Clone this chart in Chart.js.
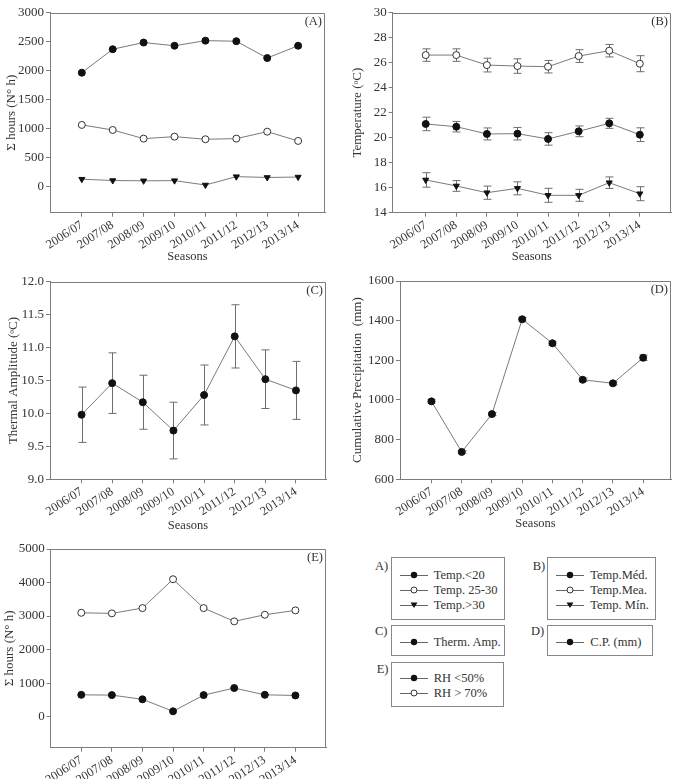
<!DOCTYPE html>
<html>
<head>
<meta charset="utf-8">
<script src="https://cdn.jsdelivr.net/npm/chart.js@4"></script>
<style>
  body { margin: 0; background: #fff; width: 676px; height: 779px; position: relative; overflow: hidden;
         font-family: "Liberation Serif", "Times New Roman", serif; color: #333; }
  canvas { position: absolute; }
  .lbox { position: absolute; border: 1px solid #888; box-sizing: border-box; }
  .ltag { position: absolute; font-size: 12.5px; line-height: 15px; }
  .litem { position: absolute; left: 8px; height: 14px; font-size: 12.5px; line-height: 14px; white-space: nowrap; }
  .litem svg { position: absolute; left: 0; top: 2px; }
  .litem span { position: absolute; left: 34px; top: 0; }
</style>
</head>
<body>
<canvas id="chartA" width="338" height="270" style="left:0px;top:0px"></canvas>
<canvas id="chartB" width="338" height="270" style="left:338px;top:0px"></canvas>
<canvas id="chartC" width="338" height="268" style="left:0px;top:270px"></canvas>
<canvas id="chartD" width="338" height="268" style="left:338px;top:270px"></canvas>
<canvas id="chartE" width="338" height="241" style="left:0px;top:538px"></canvas>
<div id="legends"></div>
<script>
// Seasons on every x axis
const seasons = ['2006/07', '2007/08', '2008/09', '2009/10', '2010/11', '2011/12', '2012/13', '2013/14'];

// (A) sum of hours per temperature band
const namesA = ['Temp.<20', 'Temp. 25-30', 'Temp.>30'];
const hoursBelow20 = [1965, 2370, 2485, 2430, 2518, 2508, 2218, 2430];
const hours25to30 = [1064, 977, 828, 862, 817, 828, 948, 788];
const hoursAbove30 = [128, 105, 100, 103, 28, 172, 158, 165];
const ticksA = [0, 500, 1000, 1500, 2000, 2500, 3000];

// (B) temperatures with error bars
const namesB = ['Temp.Méd.', 'Temp.Mea.', 'Temp. Mín.'];
const tempMed = [21.1, 20.88, 20.3, 20.32, 19.9, 20.51, 21.15, 20.24];
const tempMedErr = [0.54, 0.42, 0.48, 0.5, 0.5, 0.43, 0.4, 0.55];
const tempMea = [26.61, 26.61, 25.81, 25.73, 25.68, 26.53, 26.96, 25.92];
const tempMeaErr = [0.5, 0.5, 0.55, 0.58, 0.5, 0.51, 0.5, 0.64];
const tempMin = [16.62, 16.14, 15.6, 15.95, 15.39, 15.39, 16.4, 15.52];
const tempMinErr = [0.58, 0.43, 0.53, 0.52, 0.56, 0.48, 0.46, 0.56];
const ticksB = [14, 16, 18, 20, 22, 24, 26, 28, 30];

// (C) thermal amplitude
const namesC = ['Therm. Amp.'];
const thermAmp = [9.98, 10.46, 10.17, 9.74, 10.28, 11.17, 10.52, 10.35];
const thermAmpErr = [0.42, 0.46, 0.41, 0.43, 0.455, 0.48, 0.445, 0.44];
const ticksC = [9.0, 9.5, 10.0, 10.5, 11.0, 11.5, 12.0];

// (D) cumulative precipitation
const namesD = ['C.P. (mm)'];
const precip = [993, 738, 929, 1407, 1286, 1102, 1084, 1213];
const precipErr = [8, 6, 8, 9, 9, 9, 8, 14];
const ticksD = [600, 800, 1000, 1200, 1400, 1600];

// (E) hours by relative humidity
const namesE = ['RH <50%', 'RH > 70%'];
const rhBelow50 = [652, 643, 518, 161, 643, 854, 652, 633];
const rhAbove70 = [3098, 3080, 3238, 4098, 3238, 2842, 3039, 3170];
const ticksE = [0, 1000, 2000, 3000, 4000, 5000];

const axisColor = '#7d7d7d';
const textColor = '#333';
const serif = '"Liberation Serif", "Times New Roman", serif';

// error bars under the points, frame top/right and the panel tag
const framePlugin = {
  id: 'frame',
  beforeDatasetsDraw(chart) {
    const ctx = chart.ctx;
    const ys = chart.scales.y;
    ctx.save();
    ctx.strokeStyle = '#6e6e6e';
    ctx.lineWidth = 1;
    chart.data.datasets.forEach((ds, di) => {
      if (!ds.errors) return;
      chart.getDatasetMeta(di).data.forEach((pt, i) => {
        const v = ds.data[i].y, e = ds.errors[i];
        const y1 = ys.getPixelForValue(v + e), y2 = ys.getPixelForValue(v - e);
        const x = Math.round(pt.x) + 0.5;
        ctx.beginPath();
        ctx.moveTo(x, y1); ctx.lineTo(x, y2);
        ctx.moveTo(x - 4, y1); ctx.lineTo(x + 4, y1);
        ctx.moveTo(x - 4, y2); ctx.lineTo(x + 4, y2);
        ctx.stroke();
      });
    });
    ctx.restore();
  },
  afterDraw(chart, args, opts) {
    const ctx = chart.ctx;
    const a = chart.chartArea;
    const top = Math.round(a.top) + 0.5, right = Math.round(a.right) - 0.5;
    ctx.save();
    ctx.strokeStyle = axisColor;
    ctx.lineWidth = 1;
    ctx.beginPath();
    ctx.moveTo(a.left, top); ctx.lineTo(right, top); ctx.lineTo(right, a.bottom);
    ctx.stroke();
    ctx.fillStyle = textColor;
    ctx.font = '12.5px ' + serif;
    ctx.textAlign = 'right';
    ctx.textBaseline = 'middle';
    ctx.fillText(opts.tag, a.right - 3, a.top + 9);
    ctx.restore();
  }
};

const pts = vals => vals.map((v, i) => ({ x: i, y: v }));

const markers = {
  filled: { pointStyle: 'circle', pointBackgroundColor: '#111', pointBorderColor: '#111', pointRotation: 0 },
  open: { pointStyle: 'circle', pointBackgroundColor: '#fff', pointBorderColor: '#333', pointRotation: 0 },
  down: { pointStyle: 'triangle', pointBackgroundColor: '#111', pointBorderColor: '#111', pointRotation: 180 }
};

function series(label, vals, kind, errors) {
  return Object.assign({
    label: label,
    data: pts(vals),
    borderColor: '#7a7a7a',
    borderWidth: 1,
    pointRadius: 3.5,
    pointBorderWidth: 1,
    errors: errors
  }, markers[kind]);
}

function makePanel(id, g, yCfg, datasets, tag) {
  const yHalf = 7.8, xHalf = 7.5;
  const pl = Math.max(0, g.yTitleX - yHalf - g.cx - 2);
  const ytp = g.yTitleX - yHalf - g.cx - pl;
  const yw = g.l - g.cx - pl;
  const pr = g.cx + g.cw - g.r;
  const pt = g.t - g.cy;
  const xh = g.cy + g.ch - g.b;
  const xtp = g.xTitleY ? (g.cy + g.ch) - xHalf - g.xTitleY : 0;
  const font = { family: serif, size: 12.5 };

  return new Chart(document.getElementById(id), {
    type: 'line',
    data: { datasets: datasets },
    plugins: [framePlugin],
    options: {
      responsive: false,
      animation: false,
      layout: { padding: { left: pl, right: pr, top: pt, bottom: 0 } },
      plugins: { legend: { display: false }, tooltip: { enabled: false }, frame: { tag: tag } },
      scales: {
        x: {
          type: 'linear', min: g.xmin, max: g.xmax,
          afterBuildTicks: s => { s.ticks = seasons.map((_, i) => ({ value: i })); },
          afterFit: s => { s.height = xh; },
          grid: { display: true, drawOnChartArea: false, drawTicks: true, tickLength: 4, color: axisColor },
          border: { display: true, color: axisColor },
          ticks: { autoSkip: false, minRotation: 33, maxRotation: 33, padding: 1, color: textColor, font: font,
                   callback: v => seasons[v] },
          title: { display: !!g.xTitleY, text: 'Seasons', color: textColor, font: font,
                   padding: { top: 0, bottom: xtp } }
        },
        y: {
          min: yCfg.min, max: yCfg.max,
          afterBuildTicks: s => { s.ticks = yCfg.ticks.map(v => ({ value: v })); },
          afterFit: s => { s.width = yw; },
          grid: { display: true, drawOnChartArea: false, drawTicks: true, tickLength: 4, color: axisColor },
          border: { display: true, color: axisColor },
          ticks: { padding: 2, color: textColor, font: { family: serif, size: 13 },
                   callback: v => yCfg.digits ? v.toFixed(yCfg.digits) : String(v) },
          title: { display: true, text: yCfg.title, color: textColor, font: { family: serif, size: 13 },
                   padding: { top: ytp, bottom: 0 } }
        }
      }
    }
  });
}

makePanel('chartA',
  { cx: 0, cy: 0, cw: 338, ch: 270, l: 50, t: 12.7, r: 325, b: 212.7, yTitleX: 11.5, xTitleY: 256.7, xmin: -1.03, xmax: 7.87 },
  { min: -450, max: 3000, ticks: ticksA, title: 'Σ hours (N° h)' },
  [series(namesA[0], hoursBelow20, 'filled'),
   series(namesA[1], hours25to30, 'open'),
   series(namesA[2], hoursAbove30, 'down')],
  '(A)');

makePanel('chartB',
  { cx: 338, cy: 0, cw: 338, ch: 270, l: 392.7, t: 12.7, r: 673, b: 212.7, yTitleX: 357.5, xTitleY: 256.7, xmin: -1.08, xmax: 8.02 },
  { min: 14, max: 30, ticks: ticksB, title: 'Temperature (ᵒC)' },
  [series(namesB[1], tempMea, 'open', tempMeaErr),
   series(namesB[0], tempMed, 'filled', tempMedErr),
   series(namesB[2], tempMin, 'down', tempMinErr)],
  '(B)');

makePanel('chartC',
  { cx: 0, cy: 270, cw: 338, ch: 268, l: 50, t: 281.7, r: 326, b: 479.3, yTitleX: 13.8, xTitleY: 526, xmin: -1.03, xmax: 7.98 },
  { min: 9, max: 12, ticks: ticksC, digits: 1, title: 'Thermal Amplitude (ᵒC)' },
  [series(namesC[0], thermAmp, 'filled', thermAmpErr)],
  '(C)');

makePanel('chartD',
  { cx: 338, cy: 270, cw: 338, ch: 268, l: 400, t: 281, r: 673, b: 479.3, yTitleX: 357.7, xTitleY: 524, xmin: -1.04, xmax: 7.92 },
  { min: 600, max: 1600, ticks: ticksD, title: 'Cumulative Precipitation  (mm)' },
  [series(namesD[0], precip, 'filled', precipErr)],
  '(D)');

makePanel('chartE',
  { cx: 0, cy: 538, cw: 338, ch: 241, l: 50.7, t: 549, r: 326, b: 747.7, yTitleX: 9.2, xTitleY: 0, xmin: -1.0, xmax: 8.0 },
  { min: -925, max: 5000, ticks: ticksE, title: 'Σ hours (N° h)' },
  [series(namesE[0], rhBelow50, 'filled'),
   series(namesE[1], rhAbove70, 'open')],
  '(E)');

// legend boxes at the lower right
const legendGroups = [
  { tag: 'A)', tx: 375, ty: 559, x: 390.7, y: 557, w: 114.5, h: 63, rows: [17.3, 32.3, 47],
    names: namesA, kinds: ['filled', 'open', 'down'] },
  { tag: 'B)', tx: 532.7, ty: 559, x: 547.3, y: 557, w: 109, h: 63, rows: [17.3, 32.3, 47],
    names: namesB, kinds: ['filled', 'open', 'down'] },
  { tag: 'C)', tx: 375, ty: 624, x: 390.7, y: 625, w: 114, h: 31, rows: [15.7],
    names: namesC, kinds: ['filled'] },
  { tag: 'D)', tx: 531, ty: 624, x: 547.3, y: 625, w: 106, h: 31, rows: [15.7],
    names: namesD, kinds: ['filled'] },
  { tag: 'E)', tx: 376.7, ty: 661.5, x: 390.7, y: 661.7, w: 113.5, h: 45, rows: [15.6, 30.6],
    names: namesE, kinds: ['filled', 'open'] }
];

function symbolSvg(kind) {
  let mark;
  if (kind === 'open') mark = '<circle cx="14" cy="5" r="3" fill="#fff" stroke="#333" stroke-width="1"/>';
  else if (kind === 'down') mark = '<path d="M10.5 2.5 L17.5 2.5 L14 8 Z" fill="#111"/>';
  else mark = '<circle cx="14" cy="5" r="3.2" fill="#111"/>';
  return '<svg width="28" height="10"><line x1="0" y1="5.5" x2="28" y2="5.5" stroke="#666" stroke-width="1"/>' + mark + '</svg>';
}

const legendHost = document.getElementById('legends');
legendGroups.forEach(grp => {
  const tag = document.createElement('div');
  tag.className = 'ltag';
  tag.style.left = grp.tx + 'px';
  tag.style.top = grp.ty + 'px';
  tag.textContent = grp.tag;
  legendHost.appendChild(tag);

  const box = document.createElement('div');
  box.className = 'lbox';
  box.style.left = grp.x + 'px';
  box.style.top = grp.y + 'px';
  box.style.width = grp.w + 'px';
  box.style.height = grp.h + 'px';
  grp.names.forEach((name, i) => {
    const item = document.createElement('div');
    item.className = 'litem';
    item.style.top = (grp.rows[i] - 7) + 'px';
    item.innerHTML = symbolSvg(grp.kinds[i]) + '<span></span>';
    item.querySelector('span').textContent = name;
    box.appendChild(item);
  });
  legendHost.appendChild(box);
});
</script>
</body>
</html>
